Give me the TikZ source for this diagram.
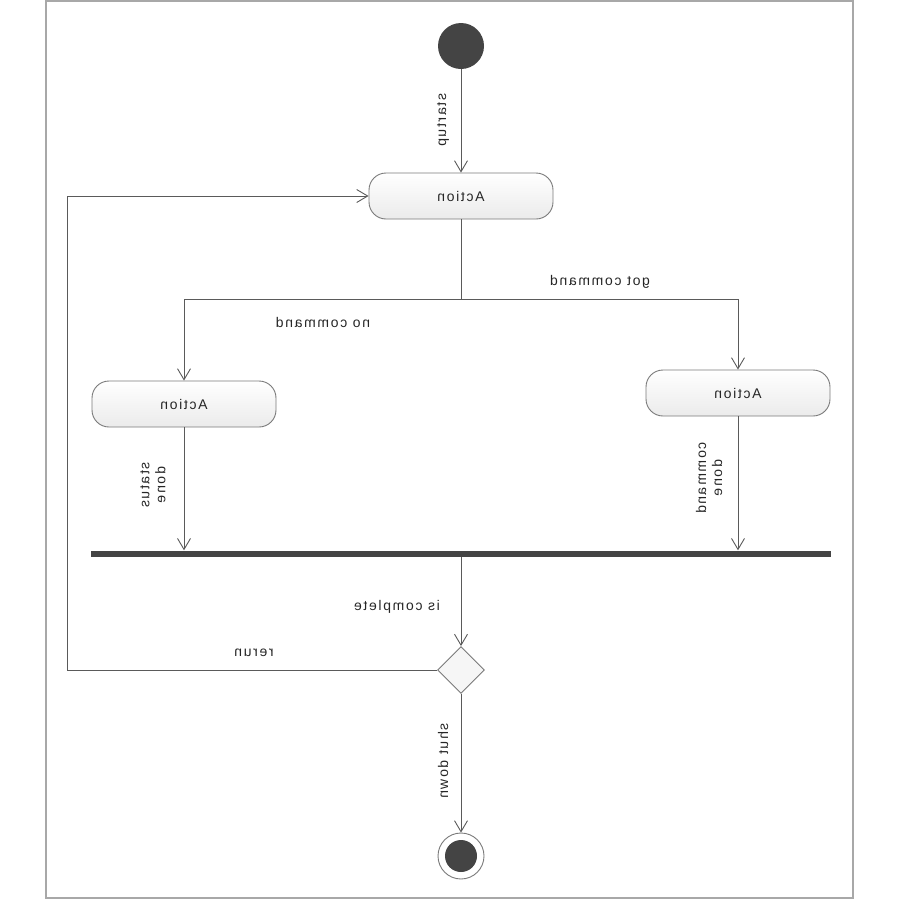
\documentclass[tikz,border=0pt]{standalone}
\usepackage{fontspec}
\setmainfont{Liberation Sans}[LetterSpace=12]
\usetikzlibrary{arrows.meta,shapes.geometric}
\definecolor{ln}{HTML}{5A5A5A}
\definecolor{bd}{HTML}{7A7A7A}
\definecolor{tx}{HTML}{262626}
\definecolor{dk}{HTML}{444444}
\definecolor{fr}{HTML}{A8A8A8}
\definecolor{fl}{HTML}{F6F6F6}
\tikzset{
  actbox/.style={draw=bd, line width=0.9pt, top color=white, bottom color=fl!90!black!60!white, shading angle=0,
    rounded corners=17pt,
    minimum width=184pt, minimum height=46pt, inner sep=0pt, xscale=-1,
    font=\fontsize{14}{16}\selectfont, text=tx},
  lbl/.style={xscale=-1, font=\fontsize{14}{16}\selectfont, text=tx, inner sep=0pt},
  vlbl/.style={xscale=-1, rotate=-90, font=\fontsize{14}{16}\selectfont, text=tx,
    inner sep=0pt, align=center},
  conn/.style={draw=ln, line width=0.9pt},
  arr/.style={conn, -{Straight Barb[length=11pt,width=13pt,line width=0.9pt]}},
}
\begin{document}
\begin{tikzpicture}[x=1pt,y=-1pt]
\useasboundingbox (0,0) rectangle (900,900);
\draw[fr, line width=1.4pt] (46,1) rectangle (853,898);
% nodes
\node[circle, fill=dk, minimum size=46pt, inner sep=0pt] (start) at (461,46) {};
\node[actbox] (a1) at (461,196) {Action};
\node[actbox] (aL) at (184,404) {Action};
\node[actbox] (aR) at (738,393) {Action};
\node[fill=dk, minimum width=740pt, minimum height=6pt, inner sep=0pt] (bar) at (461,553.5) {};
\node[diamond, draw=bd, fill=fl, line width=0.9pt, minimum width=47pt, minimum height=47pt, inner sep=0pt] (dia) at (461,670) {};
\node[circle, draw=bd, line width=0.9pt, fill=white, minimum size=46pt, inner sep=0pt] (end) at (461,856) {};
\node[circle, fill=dk, minimum size=32pt, inner sep=0pt] (endin) at (end.center) {};
\coordinate (split) at (461,299);
\coordinate (loop) at (67,670);
% connectors
\draw[arr] (start) -- (a1);
\draw[conn] (a1) -- (split);
\draw[arr] (split) -| (aL.north);
\draw[arr] (split) -| (aR.north);
\draw[arr] (aL) -- (aL.south |- bar.north);
\draw[arr] (aR) -- (aR.south |- bar.north);
\draw[arr] (bar.south -| dia.north) -- (dia.north);
\draw[arr] (dia.west) -- (loop) |- (a1.east);
\draw[arr] (dia.south) -- (end.north);
% labels
\node[vlbl] (l1) at (443,120) {startup};
\node[lbl] (l2) at (600,282) {got command};
\node[lbl] (l3) at (323,322) {no command};
\node[vlbl] (l4) at (153,485) {status\\done};
\node[vlbl] (l5) at (709,478) {command\\done};
\node[lbl] (l6) at (397,607) {is complete};
\node[lbl] (l7) at (254,653) {rerun};
\node[vlbl] (l8) at (443,761) {shut down};
\end{tikzpicture}
\end{document}
